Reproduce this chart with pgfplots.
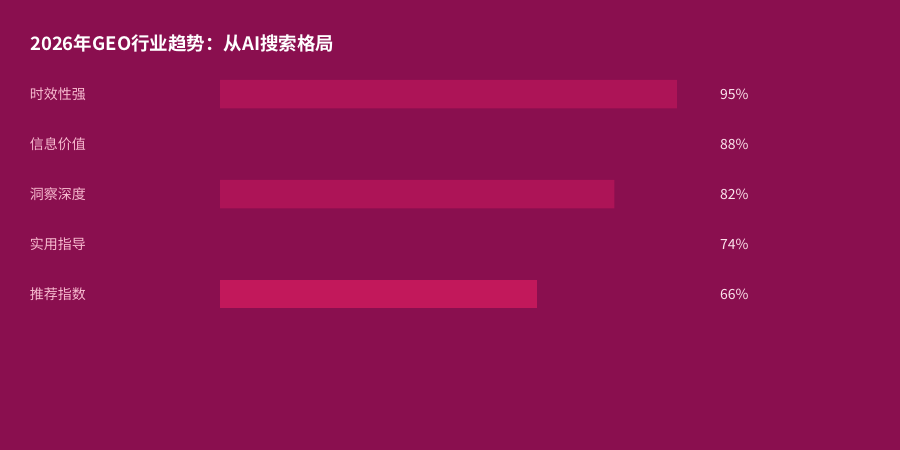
\documentclass[border=0pt]{standalone}
\usepackage{pgfplots}
\pgfplotsset{compat=1.18}
\usepackage{fontspec}
\setmainfont{Noto Sans CJK SC}
\newfontfamily\cjkbold{Noto Sans CJK SC Bold}
\definecolor{bg}{HTML}{8A0F4F}
\definecolor{barA}{HTML}{AD1457}
\definecolor{barB}{HTML}{8A0F4F}
\definecolor{barC}{HTML}{C2185B}
\definecolor{labc}{HTML}{F8BBD0}
\definecolor{valc}{HTML}{FCE4EC}
\begin{document}
\begin{tikzpicture}
\fill[bg] (0,0) rectangle (900bp,450bp);
\node[anchor=base west, inner sep=0pt, text=white, font=\cjkbold\fontsize{18.5bp}{21bp}\selectfont]
  at (30bp,399bp) {2026年GEO行业趋势：从AI搜索格局};
\begin{axis}[
  at={(220bp,131bp)}, anchor=south west,
  scale only axis, width=481bp, height=250bp,
  xmin=0, xmax=100, ymin=-0.5, ymax=4.5,
  y dir=reverse,
  axis line style={draw=none},
  tick style={draw=none},
  xtick=\empty,
  ytick={0,1,2,3,4},
  yticklabels={时效性强,信息价值,洞察深度,实用指导,推荐指数},
  yticklabel style={anchor=west, inner sep=0pt, xshift=-186bp, text=labc,
    font=\fontsize{14bp}{16bp}\selectfont},
  clip=false,
  xbar,
]
\addplot[fill=barA, draw=none, bar width=28.5bp, bar shift=0pt] coordinates {(95,0) (82,2)};
\addplot[fill=barB, draw=none, bar width=28.5bp, bar shift=0pt] coordinates {(88,1) (74,3)};
\addplot[fill=barC, draw=none, bar width=28.5bp, bar shift=0pt] coordinates {(66,4)};
\foreach \v/\k in {95/0,88/1,82/2,74/3,66/4}{
  \edef\tmp{\noexpand\node[anchor=west, inner sep=0pt, text=valc,
    font=\noexpand\fontsize{14bp}{16bp}\noexpand\selectfont]
    at (axis cs:103.95,\k) {\v\noexpand\%};}
  \tmp
}
\end{axis}
\end{tikzpicture}
\end{document}
